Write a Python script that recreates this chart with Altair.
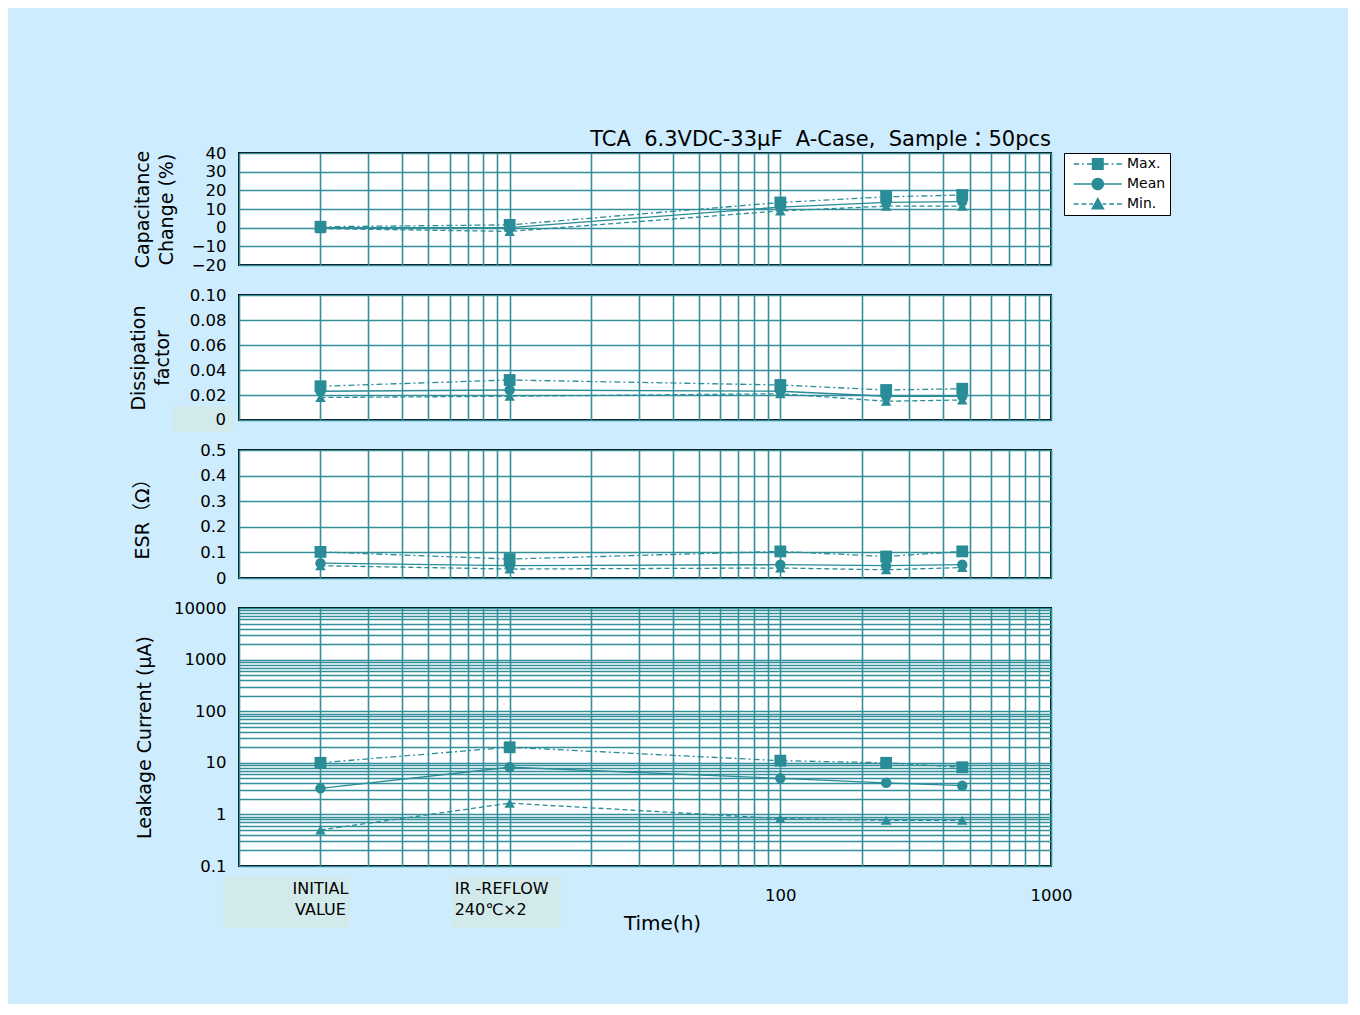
import altair as alt
import pandas as pd

# ---------------- data ----------------
times = [2, 10, 100, 246, 470]          # INITIAL, IR-REFLOW, 100h, ~250h, ~500h
series = ["Max.", "Mean", "Min."]

cap_max = [0.5, 1.5, 13.5, 16.5, 17.5]
cap_mean = [0.0, 0.0, 11.0, 13.5, 14.0]
cap_min = [-0.5, -2.0, 9.0, 11.5, 11.5]

df_max = [0.027, 0.032, 0.028, 0.024, 0.025]
df_mean = [0.023, 0.024, 0.023, 0.019, 0.019]
df_min = [0.018, 0.019, 0.021, 0.015, 0.016]

esr_max = [0.102, 0.074, 0.104, 0.084, 0.104]
esr_mean = [0.058, 0.048, 0.052, 0.048, 0.052]
esr_min = [0.048, 0.035, 0.039, 0.032, 0.041]

lc_max = [10, 20, 11, 10, 8.2]
lc_mean = [3.2, 8.2, 5.0, 4.1, 3.6]
lc_min = [0.5, 1.65, 0.83, 0.77, 0.77]

x_grid = [1, 2, 3, 4, 5, 6, 7, 8, 9, 10, 20, 30, 40, 50, 60, 70, 80, 90,
          100, 200, 300, 400, 500, 600, 700, 800, 900, 1000]
lc_grid = [0.1, 0.2, 0.3, 0.4, 0.5, 0.6, 0.7, 0.8, 0.9,
           1, 2, 3, 4, 5, 6, 7, 8, 9, 10, 20, 30, 40, 50, 60, 70, 80, 90,
           100, 200, 300, 400, 500, 600, 700, 800, 900,
           1000, 2000, 3000, 4000, 5000, 6000, 7000, 8000, 9000, 10000]
cap_ticks = [-20, -10, 0, 10, 20, 30, 40]
df_ticks = [0, 0.02, 0.04, 0.06, 0.08, 0.10]
esr_ticks = [0, 0.1, 0.2, 0.3, 0.4, 0.5]

xlab_t = [2, 10]
xlab_text = ["INITIAL\nVALUE", "IR -REFLOW\n240℃×2"]
xbox_x = [0.873, 6.14]
xbox_x2 = [2.56, 15.5]
zbox_x = [0.571]
zbox_x2 = [0.95]

NB = "\u00a0"
title_text = "TCA " + NB + "6.3VDC-33μF " + NB + "A-Case, " + NB + "Sample：50pcs"

# ---------------- styles ----------------
TEAL = "#2a8c97"
GRID = "#33909b"
BG = "#cdecfd"
BOX = "#d2eaec"
FONT = "DejaVu Sans, Noto Sans CJK JP"
W = 812
H1, H2, H3, H4 = 112, 125, 128, 258

DASH = {"Max.": [6, 3, 2, 3], "Mean": None, "Min.": [5, 3]}
SHAPE = {"Max.": "square", "Mean": "circle", "Min.": "triangle-up"}
SIZE = {"Max.": 140, "Mean": 110, "Min.": 110}


def long(key, mx, mn, mi):
    rows = []
    for s, vals in zip(series, [mx, mn, mi]):
        for t, v in zip(times, vals):
            rows.append({"panel": key, "t": t, "s": s, "v": v})
    return rows


data = pd.DataFrame(long("cap", cap_max, cap_mean, cap_min)
                    + long("df", df_max, df_mean, df_min)
                    + long("esr", esr_max, esr_mean, esr_min)
                    + long("lc", lc_max, lc_mean, lc_min))


# legend symbols: (dashed) line segment with the marker in its middle
def seg(a, b):
    return "M%s,-0.11H%sV0.11H%sZ" % (a, b, a)


leg_paths = [
    "".join(seg(a, b) for a, b in [(-0.2, 0.7), (1.2, 1.5), (2.0, 2.8)])
    + "M2.8,-1H4.8V1H2.8Z"
    + "".join(seg(a, b) for a, b in [(4.8, 5.6), (6.1, 6.4), (6.9, 7.8)]),
    seg(-0.2, 2.8) + "M4.85,0A1.05,1.05,0,1,1,2.75,0A1.05,1.05,0,1,1,4.85,0Z" + seg(4.8, 7.8),
    "".join(seg(a, b) for a, b in [(-0.2, 0.6), (1.1, 1.9), (2.4, 3.0)])
    + "M3.8,-1.15L4.95,0.9H2.65Z"
    + "".join(seg(a, b) for a, b in [(4.6, 5.2), (5.7, 6.5), (7.0, 7.8)]),
]

LEG = alt.Legend(
    title=None, orient="right", offset=-9, padding=4,
    strokeColor="black", fillColor="white",
    labelFont=FONT, labelFontSize=14, labelColor="black", labelOffset=45,
    symbolSize=144, rowPadding=6,
    symbolFillColor=TEAL, symbolStrokeWidth=0, symbolOpacity=1,
)

xscale = alt.Scale(type="log", domain=[1, 1000], nice=False)


def xenc(bottom, field="t"):
    if bottom:
        ax = alt.Axis(values=x_grid, grid=True, ticks=False, domain=False,
                      labelExpr="datum.value == 100 || datum.value == 1000 ? format(datum.value, 'd') : ''",
                      labelFlush=False, labelOverlap=False, labelBound=False,
                      labelBaseline="middle", labelPadding=29,
                      title="Time(h)", titleX=423, titleY=47, titleBaseline="top",
                      titleFontSize=20)
    else:
        ax = alt.Axis(values=x_grid, grid=True, ticks=False, domain=False,
                      labels=False, title=None)
    return alt.X(field + ":Q", scale=xscale, axis=ax)


def panel(key, ytitle, yscale, yvals, label_expr, height, tpad, bottom=False,
          title=None, extra=None, legend=False):
    d = data[data.panel == key]
    base = alt.Chart(d)
    yax = alt.Axis(values=yvals, labelExpr=label_expr, title=ytitle,
                   titlePadding=tpad, labelOverlap=False, labelBound=False,
                   labelFlush=False, titleLineHeight=24)
    y = alt.Y("v:Q", scale=yscale, axis=yax)
    x = xenc(bottom)
    lines = []
    points = []
    for s in series:
        f = base.transform_filter(alt.datum.s == s)
        if DASH[s] is None:
            lm = f.mark_line(color=TEAL, strokeWidth=1.3)
        else:
            lm = f.mark_line(color=TEAL, strokeWidth=1.3, strokeDash=DASH[s])
        lines.append(lm.encode(x=x, y=y))
        points.append(f.mark_point(filled=True, color=TEAL, opacity=1,
                                   shape=SHAPE[s], size=SIZE[s]).encode(x=x, y=y))
    layers = lines
    if extra:
        layers = layers + extra(x, y, bottom)
    layers = layers + points
    if legend:
        leg_df = pd.DataFrame({"s": series, "t": [0.5, 0.5, 0.5], "v": [0, 0, 0]})
        dummy = alt.Chart(leg_df).mark_point(
            filled=True, fill=TEAL, strokeWidth=0, clip=True, opacity=1, size=144,
        ).encode(
            x=x, y=y,
            shape=alt.Shape("s:N", scale=alt.Scale(domain=series, range=leg_paths), legend=LEG),
        )
        layers = layers + [dummy]
    ch = alt.layer(*layers).properties(width=W, height=height)
    if title is not None:
        ch = ch.properties(title=title)
    return ch


# panel 1
p1 = panel("cap", ["Capacitance", "Change (%)"],
           alt.Scale(domain=[-20, 40], nice=False, zero=False), cap_ticks,
           "format(datum.value, 'd')", H1, 1, legend=True,
           title=alt.TitleParams(title_text, anchor="end", font=FONT, fontSize=21,
                                 fontWeight="normal", color="black", offset=-5))


# panel 2 with the boxed "0" label
def df_extra(x, y, bottom):
    zb = pd.DataFrame({"t": zbox_x, "t2": zbox_x2})
    box = alt.Chart(zb).mark_rect(color=BOX, clip=False).encode(
        x=x, x2="t2:Q",
        y=alt.value(H2 - 14), y2=alt.value(H2 + 12))
    zt = pd.DataFrame({"lab": ["0"], "v": [0]})
    txt = alt.Chart(zt).mark_text(align="right", baseline="middle", font=FONT,
                                  fontSize=16.5, color="black", clip=False).encode(
        x=alt.value(-13), y=y, text="lab:N")
    return [box, txt]


p2 = panel("df", ["Dissipation", "factor"],
           alt.Scale(domain=[0, 0.1], nice=False), df_ticks,
           "datum.value == 0 ? '' : format(datum.value, '.2f')", H2, 5,
           extra=df_extra)

p3 = panel("esr", "ESR（Ω）",
           alt.Scale(domain=[0, 0.5], nice=False), esr_ticks,
           "datum.value == 0 ? '0' : format(datum.value, '.1f')", H3, 25)


def lc_extra(x, y, bottom):
    bx = pd.DataFrame({"t": xbox_x, "t2": xbox_x2})
    box = alt.Chart(bx).mark_rect(color=BOX, clip=False).encode(
        x=x, x2="t2:Q",
        y=alt.value(H4 + 11), y2=alt.value(H4 + 62))
    l1 = pd.DataFrame({"t": xlab_t[:1], "lab": xlab_text[:1]})
    l2 = pd.DataFrame({"t": xlab_t[1:], "lab": xlab_text[1:]})
    t1 = alt.Chart(l1).mark_text(align="center", baseline="top", lineBreak="\n",
                                 lineHeight=21, font=FONT, fontSize=16,
                                 color="black").encode(
        x=x, y=alt.value(H4 + 15), text="lab:N")
    t2 = alt.Chart(l2).mark_text(align="left", baseline="top", lineBreak="\n",
                                 lineHeight=21, font=FONT, fontSize=16, dx=-55,
                                 color="black").encode(
        x=x, y=alt.value(H4 + 15), text="lab:N")
    return [box, t1, t2]


p4 = panel("lc", "Leakage  Current (μA)",
           alt.Scale(type="log", domain=[0.1, 10000], nice=False), lc_grid,
           "indexof([0.1, 1, 10, 100, 1000, 10000], datum.value) >= 0 ? format(datum.value, '~g') : ''",
           H4, 23, bottom=True, extra=lc_extra)

chart = alt.vconcat(p1, p2, p3, p4, spacing=30, bounds="flush").properties(
    background=BG,
    padding={"left": 120, "top": 120, "right": 177, "bottom": 70},
).configure_view(
    stroke="black", strokeWidth=2, fill="white"
).configure_axis(
    labelFont=FONT, labelFontSize=16.5, labelColor="black",
    titleFont=FONT, titleFontSize=19, titleFontWeight="normal", titleColor="black",
    gridColor=GRID, gridWidth=1.6, gridOpacity=1,
    domain=False, ticks=False,
).configure_axisY(
    labelPadding=13, minExtent=62, maxExtent=62,
)

chart.save("out.html", embed_options={"renderer": "svg", "actions": False})
